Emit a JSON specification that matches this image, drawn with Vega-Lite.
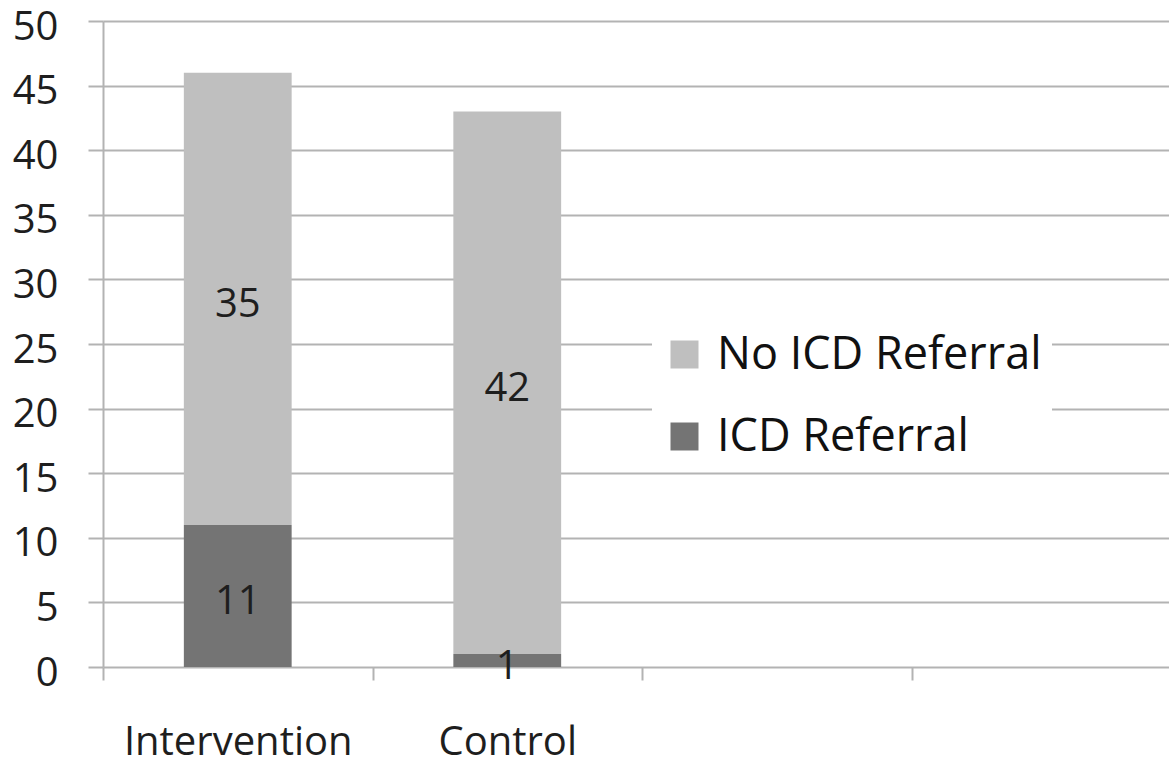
{
  "$schema": "https://vega.github.io/schema/vega-lite/v6.json",
  "width": 1066,
  "height": 646,
  "autosize": {"type": "none"},
  "padding": {"left": 103, "top": 21, "right": 0, "bottom": 90},
  "background": "white",
  "config": {
    "view": {"stroke": null},
    "font": "Open Sans"
  },
  "data": {
    "values": [
      {"group": "Intervention", "status": "ICD Referral", "count": 11},
      {"group": "Intervention", "status": "No ICD Referral", "count": 35},
      {"group": "Control", "status": "ICD Referral", "count": 1},
      {"group": "Control", "status": "No ICD Referral", "count": 42}
    ]
  },
  "encoding": {
    "x": {
      "field": "group",
      "type": "nominal",
      "sort": null,
      "scale": {
        "domain": ["Intervention", "Control", " ", "  "],
        "range": [0, 1078],
        "paddingInner": 0.6,
        "paddingOuter": 0.3
      },
      "axis": {
        "title": null,
        "domain": false,
        "grid": false,
        "ticks": true,
        "tickSize": 13,
        "tickWidth": 2,
        "tickColor": "#b3b3b3",
        "tickOffset": -134.75,
        "labelOffset": 134.75,
        "labelPadding": 42,
        "labelFontSize": 40,
        "labelLimit": 400,
        "labelColor": "#1e1e1e",
        "labelAngle": 0
      }
    }
  },
  "layer": [
    {
      "mark": {"type": "bar"},
      "encoding": {
        "y": {
          "field": "count",
          "type": "quantitative",
          "stack": "zero",
          "scale": {"domain": [0, 50], "nice": false},
          "axis": {
            "title": null,
            "values": [0, 5, 10, 15, 20, 25, 30, 35, 40, 45, 50],
            "grid": true,
            "gridColor": "#b3b3b3",
            "gridWidth": 2,
            "domain": true,
            "domainColor": "#b3b3b3",
            "domainWidth": 2,
            "tickSize": 15,
            "tickWidth": 2,
            "tickColor": "#b3b3b3",
            "labelPadding": 30,
            "labelFontSize": 40,
            "labelColor": "#1e1e1e",
            "labelOffset": 6
          }
        },
        "color": {
          "field": "status",
          "type": "nominal",
          "scale": {
            "domain": ["No ICD Referral", "ICD Referral"],
            "range": ["#bfbfbf", "#747474"]
          },
          "legend": {
            "title": null,
            "orient": "none",
            "legendX": 549,
            "legendY": 301,
            "fillColor": "white",
            "padding": 10,
            "symbolType": "square",
            "symbolSize": 784,
            "symbolStrokeWidth": 0,
            "symbolOpacity": 1,
            "labelFontSize": 45,
            "labelOffset": 10,
            "labelLimit": 500,
            "labelColor": "#111111",
            "rowPadding": 36
          }
        },
        "order": {"field": "status", "sort": "ascending"}
      }
    },
    {
      "transform": [
        {
          "stack": "count",
          "groupby": ["group"],
          "sort": [{"field": "status", "order": "ascending"}],
          "as": ["lo", "hi"]
        },
        {"calculate": "(datum.lo + datum.hi) / 2", "as": "mid"}
      ],
      "mark": {"type": "text", "fontSize": 40, "color": "#1e1e1e", "baseline": "middle", "dy": 6},
      "encoding": {
        "y": {"field": "mid", "type": "quantitative"},
        "text": {"field": "count", "type": "quantitative"}
      }
    }
  ]
}
